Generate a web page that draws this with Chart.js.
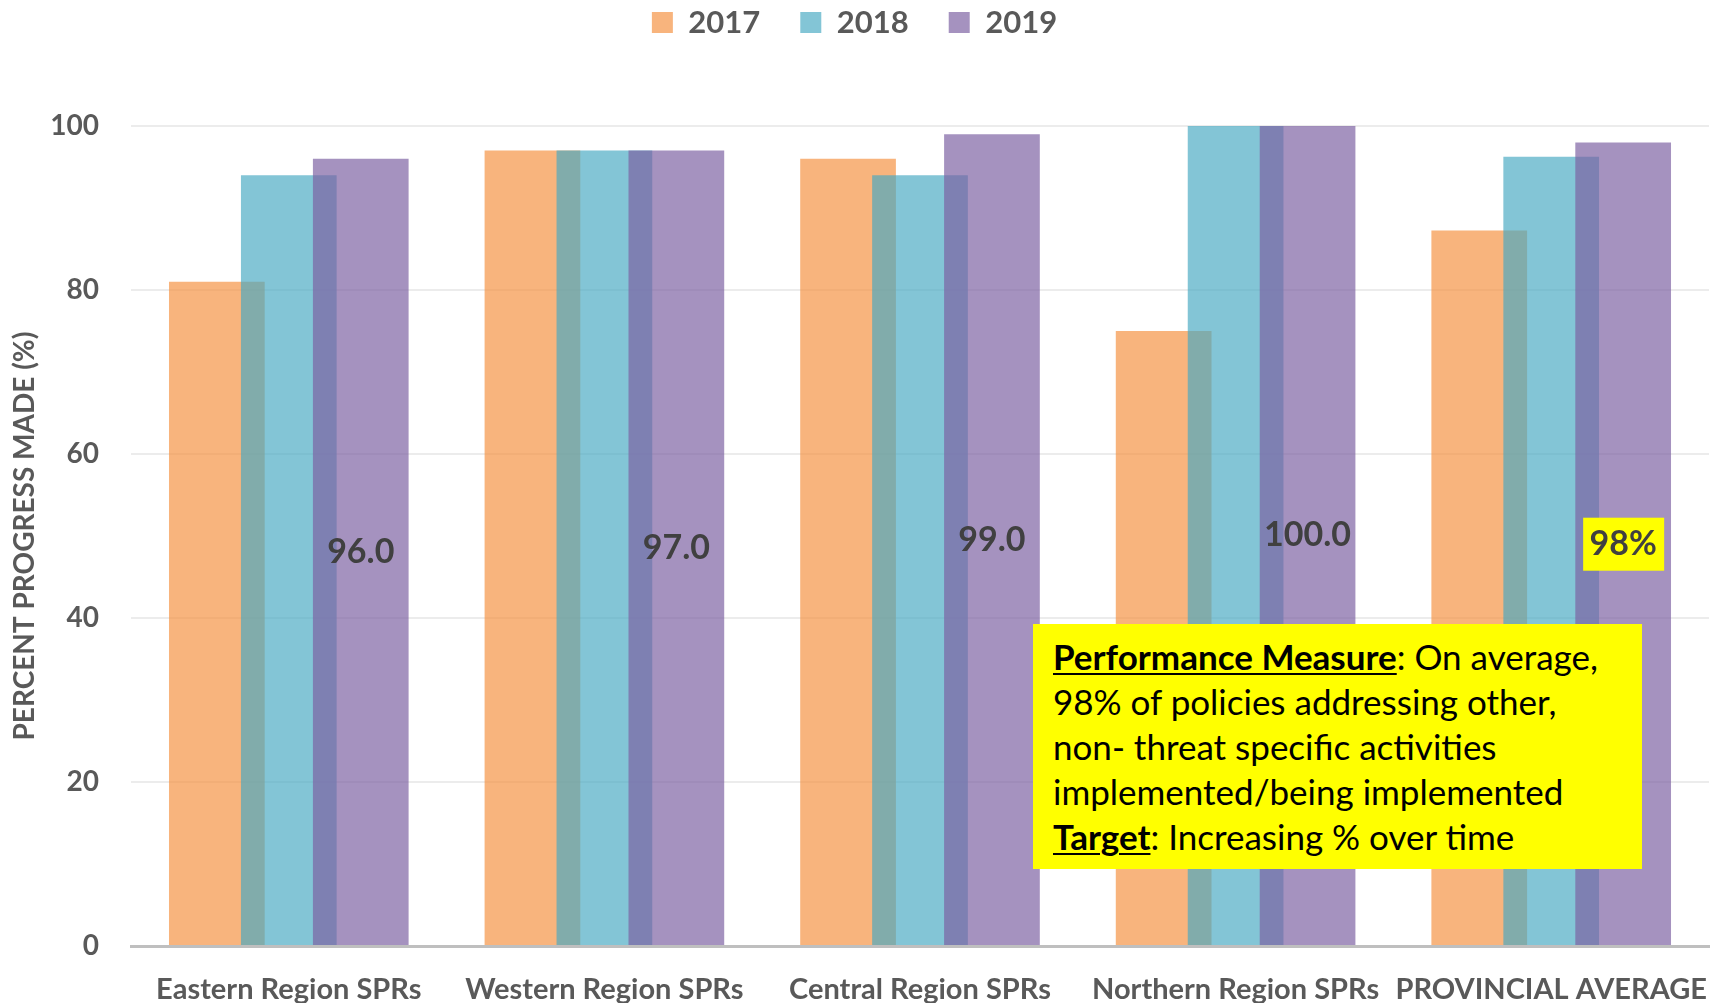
<!DOCTYPE html>
<html>
<head>
<meta charset="utf-8">
<script src="https://cdn.jsdelivr.net/npm/chart.js@4.4.1/dist/chart.umd.min.js"></script>
<style>
  html, body { margin: 0; padding: 0; background: #fff; }
  #wrap { position: relative; width: 1721px; height: 1003px; }
  #note {
    position: absolute; left: 1033px; top: 624px; width: 589px; height: 235px;
    background: #ffff00; padding: 10px 0 0 20px;
    font-family: Lato, sans-serif; font-size: 35px; line-height: 45px; color: #000;
  }
  #note b { text-decoration: underline; text-decoration-thickness: 2px; text-underline-offset: 3px; }
</style>
</head>
<body>
<div id="wrap">
  <canvas id="progressChart"></canvas>
  <div id="note">
    <b>Performance Measure</b>: On average,<br>
    98% of policies addressing other,<br>
    non- threat specific activities<br>
    implemented/being implemented<br>
    <b>Target</b>: Increasing % over time
  </div>
</div>
<script>
const categories = ['Eastern Region SPRs', 'Western Region SPRs', 'Central Region SPRs', 'Northern Region SPRs', 'PROVINCIAL AVERAGE'];
const years = ['2017', '2018', '2019'];
const values2017 = [81, 97, 96, 75, 87.25];
const values2018 = [94, 97, 94, 100, 96.25];
const values2019 = [96, 97, 99, 100, 98];
const labels2019 = ['96.0', '97.0', '99.0', '100.0', '98%'];
const yTicks = [0, 20, 40, 60, 80, 100];

const colors = ['rgba(245,145,63,0.68)', 'rgba(70,169,194,0.67)', 'rgba(125,97,162,0.69)'];
const textGrey = '#595959';

// push the plot down below the legend
const legendGap = {
    id: 'legendGap',
    beforeLayout(chart) {
        const lg = chart.legend;
        if (lg && !lg._patched) {
            const fit = lg.fit;
            lg.fit = function () { fit.call(this); this.height += 78; };
            lg._patched = true;
        }
    }
};

// draw datasets left to right so the later year sits on top, then the 2019 labels
const barLayers = {
    id: 'barLayers',
    beforeDatasetsDraw(chart) {
        for (let i = 0; i < chart.data.datasets.length; i++) {
            chart.getDatasetMeta(i).controller.draw();
        }
        drawLabels(chart);
        return false;
    }
};

function drawLabels(chart) {
    const ctx = chart.ctx;
    const meta = chart.getDatasetMeta(2);
    ctx.save();
    ctx.font = 'bold 34px Lato, sans-serif';
    ctx.textAlign = 'center';
    ctx.textBaseline = 'middle';
    meta.data.forEach((bar, i) => {
        const cy = (bar.y + bar.base) / 2;
        if (i === labels2019.length - 1) {
            ctx.fillStyle = '#ffff00';
            ctx.fillRect(bar.x - 40, cy - 26, 81, 53);
        }
        ctx.fillStyle = '#404040';
        ctx.fillText(labels2019[i], bar.x, cy);
    });
    ctx.restore();
}

const ctx = document.getElementById('progressChart').getContext('2d');
new Chart(ctx, {
    type: 'bar',
    data: {
        labels: categories,
        datasets: [
            { label: years[0], data: values2017, backgroundColor: colors[0] },
            { label: years[1], data: values2018, backgroundColor: colors[1] },
            { label: years[2], data: values2019, backgroundColor: colors[2] }
        ]
    },
    options: {
        responsive: true,
        maintainAspectRatio: false,
        animation: false,
        categoryPercentage: 0.684,
        barPercentage: 1.33,
        layout: { padding: { top: -33, right: 12, left: 0, bottom: 0 } },
        plugins: {
            legend: {
                position: 'top',
                labels: {
                    boxWidth: 21,
                    boxHeight: 21,
                    padding: 40,
                    color: textGrey,
                    font: { family: 'Lato', size: 31, weight: 'bold' }
                }
            },
            tooltip: { enabled: false }
        },
        scales: {
            x: {
                grid: { display: false, drawTicks: false },
                border: { color: '#bfbfbf', width: 3 },
                ticks: {
                    color: textGrey,
                    padding: 26,
                    maxRotation: 0,
                    autoSkip: false,
                    font: { family: 'Lato', size: 29, weight: 'bold' }
                },
                afterFit(scale) {
                    scale.height = 57;
                    scale.paddingLeft = 0;
                    scale.paddingRight = 0;
                }
            },
            y: {
                min: 0,
                max: 100,
                afterBuildTicks(scale) { scale.ticks = yTicks.map(v => ({ value: v })); },
                grid: { color: '#ececec', lineWidth: 2, drawTicks: false },
                border: { display: false },
                ticks: {
                    color: textGrey,
                    padding: 32,
                    font: { family: 'Lato', size: 28, weight: 'bold' }
                },
                title: {
                    display: true,
                    text: 'PERCENT PROGRESS MADE (%)',
                    color: textGrey,
                    padding: { top: 8, bottom: 0 },
                    font: { family: 'Lato', size: 28, weight: 'bold' }
                },
                afterFit(scale) { scale.width = 131; }
            }
        }
    },
    plugins: [legendGap, barLayers]
});
</script>
</body>
</html>
